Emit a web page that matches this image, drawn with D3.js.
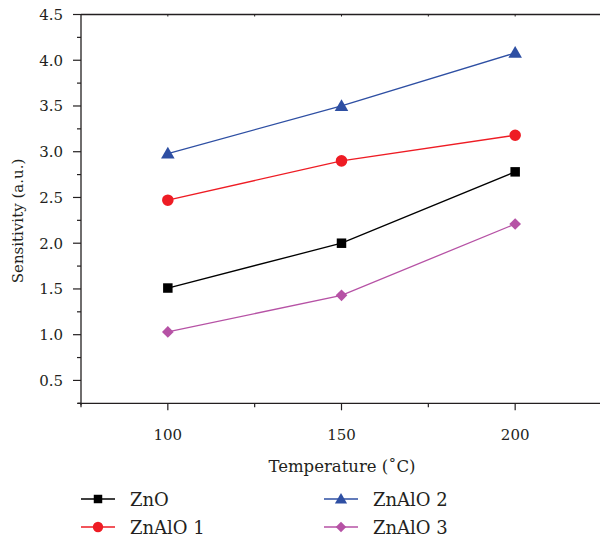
<!DOCTYPE html>
<html>
<head>
<meta charset="utf-8">
<script src="https://cdn.jsdelivr.net/npm/d3@7"></script>
<style>
html,body{margin:0;padding:0;background:#fff;}
svg{display:block;}
</style>
</head>
<body>
<svg id="chart" width="600" height="537" font-family="DejaVu Serif"></svg>
<script>
const temperatures = [100, 150, 200];
const seriesNames = ["ZnO", "ZnAlO 1", "ZnAlO 2", "ZnAlO 3"];
const znO    = [1.51, 2.00, 2.78];
const znAlO1 = [2.47, 2.90, 3.18];
const znAlO2 = [2.98, 3.50, 4.08];
const znAlO3 = [1.03, 1.43, 2.21];
const yTickLabels = ["0.5","1.0","1.5","2.0","2.5","3.0","3.5","4.0","4.5"];
const xTickLabels = ["100","150","200"];

(function () {
const colors = ["#000000", "#ee1c24", "#2e4fa3", "#b652a5"];
const symbols = [d3.symbolSquare, d3.symbolCircle, d3.symbolTriangle, d3.symbolSquare];
const symSizes = [90, 105, 80, 68];
const symRot = [0, 0, 0, 45];
const symDy = [0, 0, 1, 0];
const allSeries = [znO, znAlO1, znAlO2, znAlO3];

const svg = d3.select("#chart");
const pLeft = 81, pRight = 602, pTop = 14.5, pBottom = 403.3;
const x = d3.scaleLinear().domain([75, 225]).range([pLeft, pRight]);
const y = d3.scaleLinear().domain([0.25, 4.5]).range([pBottom, pTop]);

const axisColor = "#231f20";
const txt = "#231f20";
const fs = 15;
svg.append("line").attr("x1", pLeft).attr("x2", 600).attr("y1", pTop).attr("y2", pTop)
  .attr("stroke", axisColor).attr("stroke-width", 1.3);
svg.append("line").attr("x1", pLeft - 3).attr("x2", 600).attr("y1", pBottom).attr("y2", pBottom)
  .attr("stroke", axisColor).attr("stroke-width", 1.3);
svg.append("line").attr("x1", pLeft).attr("x2", pLeft).attr("y1", pTop).attr("y2", pBottom + 2)
  .attr("stroke", axisColor).attr("stroke-width", 1.3);

const xMajor = [100, 150, 200];
const xMinor = [75, 125, 175];
xMajor.forEach(v => svg.append("line").attr("x1", x(v)).attr("x2", x(v)).attr("y1", pBottom).attr("y2", pBottom + 7)
  .attr("stroke", axisColor).attr("stroke-width", 1.2));
xMinor.forEach(v => svg.append("line").attr("x1", x(v)).attr("x2", x(v)).attr("y1", pBottom).attr("y2", pBottom + 4)
  .attr("stroke", axisColor).attr("stroke-width", 1.2));
[100, 125, 150, 175, 200].forEach(v => svg.append("line").attr("x1", x(v)).attr("x2", x(v)).attr("y1", pTop).attr("y2", pTop + 2)
  .attr("stroke", axisColor).attr("stroke-width", 1));
xMajor.forEach((v, i) => svg.append("text").attr("x", x(v)).attr("y", 440).attr("fill", txt)
  .attr("text-anchor", "middle").attr("font-size", fs).text(xTickLabels[i]));

const yMajor = yTickLabels.map(Number);
const yMinor = d3.range(0.25, 4.5, 0.5);
yMajor.forEach((v, i) => {
  svg.append("line").attr("x1", pLeft - 8).attr("x2", pLeft).attr("y1", y(v)).attr("y2", y(v))
    .attr("stroke", axisColor).attr("stroke-width", 1.2);
  svg.append("text").attr("x", 63).attr("y", y(v) + 5.5).attr("text-anchor", "end").attr("fill", txt)
    .attr("font-size", fs).text(yTickLabels[i]);
});
yMinor.forEach(v => svg.append("line").attr("x1", pLeft - 4).attr("x2", pLeft).attr("y1", y(v)).attr("y2", y(v))
  .attr("stroke", axisColor).attr("stroke-width", 1.2));

svg.append("text").attr("transform", "translate(23,221) rotate(-90)").attr("fill", txt)
  .attr("text-anchor", "middle").attr("font-size", fs).text("Sensitivity (a.u.)");
svg.append("text").attr("x", 342).attr("y", 472).attr("text-anchor", "middle").attr("fill", txt)
  .attr("font-size", 16.5).text("Temperature (˚C)");

const line = d3.line().x((d, i) => x(temperatures[i])).y(d => y(d));
allSeries.forEach((s, k) => {
  svg.append("path").datum(s).attr("d", line).attr("fill", "none")
    .attr("stroke", colors[k]).attr("stroke-width", 1.3);
  svg.selectAll(null).data(s).enter().append("path")
    .attr("d", d3.symbol().type(symbols[k]).size(symSizes[k]))
    .attr("transform", (d, i) => `translate(${x(temperatures[i])},${y(d) + symDy[k]}) rotate(${symRot[k]})`)
    .attr("fill", colors[k]);
});

const legendPos = [[81, 499], [81, 527], [324, 499], [324, 527]];
seriesNames.forEach((name, k) => {
  const [lx, ly] = legendPos[k];
  svg.append("line").attr("x1", lx).attr("x2", lx + 34).attr("y1", ly).attr("y2", ly)
    .attr("stroke", colors[k]).attr("stroke-width", 1.3);
  svg.append("path").attr("d", d3.symbol().type(symbols[k]).size(symSizes[k] * 0.8))
    .attr("transform", `translate(${lx + 17},${ly + symDy[k]}) rotate(${symRot[k]})`).attr("fill", colors[k]);
  svg.append("text").attr("x", lx + 49).attr("y", ly + 6.5).attr("font-size", 18).attr("fill", txt).text(name);
});
})();
</script>
</body>
</html>
